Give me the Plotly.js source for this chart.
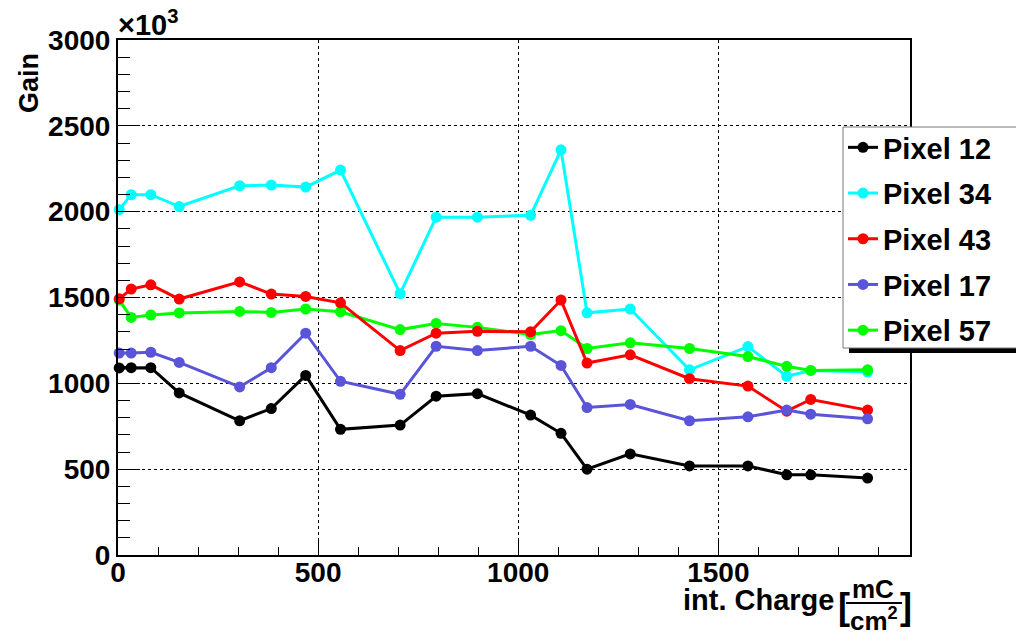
<!DOCTYPE html>
<html>
<head>
<meta charset="utf-8">
<script src="https://cdn.plot.ly/plotly-3.0.1.min.js"></script>
<style>body{margin:0;background:#fff;} #chart{width:1016px;height:637px;}</style>
</head>
<body>
<div id="chart"></div>
<script>
// integrated charge [mC/cm^2]
const charge = [3, 33, 82, 153, 304, 383, 469, 556, 705, 795, 898, 1031, 1107, 1172, 1280, 1428, 1574, 1671, 1731, 1873];
// gain values (x10^3)
const pixel12 = [1090, 1091, 1091, 944, 782, 853, 1046, 732, 757, 925, 940, 815, 709, 500, 589, 519, 519, 467, 467, 448];
const pixel34 = [2012, 2099, 2099, 2030, 2151, 2155, 2143, 2242, 1522, 1968, 1968, 1979, 2360, 1411, 1433, 1079, 1214, 1041, 1075, 1066];
const pixel43 = [1492, 1549, 1574, 1491, 1591, 1520, 1506, 1469, 1191, 1292, 1303, 1300, 1485, 1118, 1166, 1027, 984, 838, 906, 844];
const pixel17 = [1176, 1176, 1181, 1122, 979, 1091, 1292, 1012, 936, 1216, 1191, 1216, 1104, 859, 877, 782, 805, 844, 820, 793];
const pixel57 = [1485, 1384, 1398, 1410, 1419, 1413, 1433, 1417, 1313, 1349, 1326, 1284, 1307, 1203, 1236, 1203, 1156, 1099, 1075, 1079];

const seriesNames = ['Pixel 12', 'Pixel 34', 'Pixel 57', 'Pixel 43', 'Pixel 17'];
const seriesData = [pixel12, pixel34, pixel57, pixel43, pixel17];
const seriesColors = ['#000000', '#00ffff', '#00ff00', '#ff0000', '#5954d8'];
const legendRanks = [1, 2, 5, 3, 4];

const FONT = 'Liberation Sans, Arial, sans-serif';

const traces = seriesNames.map((n, i) => ({
  type: 'scatter', mode: 'lines+markers', name: n,
  x: charge, y: seriesData[i],
  line: {color: seriesColors[i], width: 3},
  marker: {color: seriesColors[i], size: 11},
  legendrank: legendRanks[i],
  legendgroup: 'g' + i,
  cliponaxis: false
}));

// pixel -> paper helpers for decorations
const L = 118, R = 910, T = 40, B = 555;
const px = v => (v - L) / (R - L);
const py = v => (B - v) / (B - T);

const axisCommon = {
  showline: true, linecolor: '#000', linewidth: 2, mirror: true,
  ticks: 'inside', tickcolor: '#000', tickwidth: 1,
  showgrid: true, gridcolor: '#000', griddash: 'dot', gridwidth: 1,
  zeroline: false,
  tickfont: {family: FONT, size: 28, color: '#000', weight: 'bold'}
};

const layout = {
  width: 1016, height: 637,
  margin: {l: L, r: 1016 - R, t: T, b: 637 - B},
  paper_bgcolor: '#fff', plot_bgcolor: '#fff',
  showlegend: true,
  xaxis: Object.assign({}, axisCommon, {
    range: [0, 1979], dtick: 500, tick0: 0, ticklen: 16, ticklabelstandoff: -9,
    minor: {ticks: 'inside', ticklen: 8, dtick: 100, tickcolor: '#000', showgrid: false}
  }),
  yaxis: Object.assign({}, axisCommon, {
    range: [0, 3000], dtick: 500, tick0: 0, ticklen: 22,
    minor: {ticks: 'inside', ticklen: 12, dtick: 100, tickcolor: '#000', showgrid: false}
  }),
  legend: {
    x: px(843), y: py(122), xanchor: 'left', yanchor: 'top',
    bgcolor: 'rgba(0,0,0,0)', borderwidth: 0,
    font: {family: FONT, size: 29, color: '#000', weight: 'bold'},
    tracegroupgap: 5, traceorder: 'grouped'
  },
  shapes: [
    // legend shadow
    {type: 'rect', xref: 'paper', yref: 'paper', x0: px(849), x1: px(1040), y0: py(353), y1: py(135),
     fillcolor: '#000', line: {width: 0}, layer: 'above'},
    // legend box
    {type: 'rect', xref: 'paper', yref: 'paper', x0: px(843), x1: px(1040), y0: py(348), y1: py(127),
     fillcolor: '#fff', line: {color: '#777', width: 1}, layer: 'above'},
    // fraction bar in x title
    {type: 'line', xref: 'paper', yref: 'paper', x0: px(846), x1: px(902), y0: py(603), y1: py(603),
     line: {color: '#000', width: 2}}
  ],
  annotations: [
    {text: 'Gain', xref: 'paper', yref: 'paper', x: px(29), y: py(83), textangle: -90,
     showarrow: false, xanchor: 'center', yanchor: 'middle',
     font: {family: FONT, size: 27, color: '#000', weight: 'bold'}},
    {text: '×10<sup>3</sup>', xref: 'paper', yref: 'paper', x: px(116), y: py(23),
     showarrow: false, xanchor: 'left', yanchor: 'middle',
     font: {family: FONT, size: 29, color: '#000', weight: 'bold'}},
    {text: 'int. Charge', xref: 'paper', yref: 'paper', x: px(836), y: py(600),
     showarrow: false, xanchor: 'right', yanchor: 'middle',
     font: {family: FONT, size: 29, color: '#000', weight: 'bold'}},
    {text: '[', xref: 'paper', yref: 'paper', x: px(844), y: py(606),
     showarrow: false, xanchor: 'center', yanchor: 'middle',
     font: {family: FONT, size: 36, color: '#000', weight: 'bold'}},
    {text: ']', xref: 'paper', yref: 'paper', x: px(906), y: py(606),
     showarrow: false, xanchor: 'center', yanchor: 'middle',
     font: {family: FONT, size: 36, color: '#000', weight: 'bold'}},
    {text: 'mC', xref: 'paper', yref: 'paper', x: px(873), y: py(589),
     showarrow: false, xanchor: 'center', yanchor: 'middle',
     font: {family: FONT, size: 26, color: '#000', weight: 'bold'}},
    {text: 'cm<sup>2</sup>', xref: 'paper', yref: 'paper', x: px(874), y: py(619),
     showarrow: false, xanchor: 'center', yanchor: 'middle',
     font: {family: FONT, size: 26, color: '#000', weight: 'bold'}}
  ]
};

Plotly.newPlot('chart', traces, layout, {displayModeBar: false, staticPlot: true});
</script>
</body>
</html>
